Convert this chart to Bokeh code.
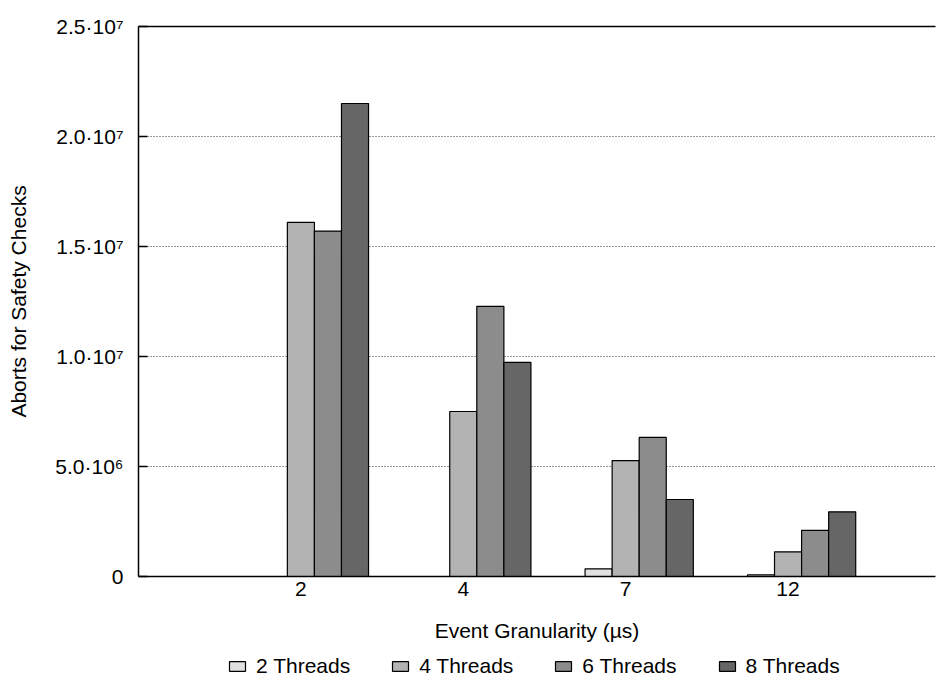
from bokeh.plotting import figure
from bokeh.layouts import column
from bokeh.models import Range1d, FixedTicker, LinearAxis, Legend, LegendItem, ColumnDataSource
from bokeh.embed import file_html
from bokeh.resources import INLINE

# ---- data ----
granularity = ["2", "4", "7", "12"]
series_names = ["2 Threads", "4 Threads", "6 Threads", "8 Threads"]
threads_2 = [0.0, 0.0, 0.35e6, 0.07e6]
threads_4 = [16.1e6, 7.5e6, 5.27e6, 1.12e6]
threads_6 = [15.7e6, 12.28e6, 6.32e6, 2.1e6]
threads_8 = [21.5e6, 9.73e6, 3.5e6, 2.94e6]
y_ticks = [0, 5e6, 1e7, 1.5e7, 2e7, 2.5e7]
y_tick_labels = ["0", "5.0·10⁶", "1.0·10⁷", "1.5·10⁷", "2.0·10⁷", "2.5·10⁷"]
colors = ["#e0e0e0", "#b3b3b3", "#8c8c8c", "#666666"]

FONT = "Liberation Sans"
FS = "21px"

p = figure(frame_width=797, frame_height=550, output_backend="svg", toolbar_location=None,
           x_range=Range1d(-1.0, 3.908), y_range=Range1d(0, 2.5e7),
           min_border_left=138, min_border_right=3, min_border_top=26, min_border_bottom=72)

p.outline_line_color = None
p.background_fill_color = "white"
p.border_fill_color = "white"

bw = 1.0 / 6.0
all_series = [threads_2, threads_4, threads_6, threads_8]
sources = []
for j, (vals, col) in enumerate(zip(all_series, colors)):
    src = ColumnDataSource(dict(x=[i + (j - 1) * bw for i in range(len(granularity))], top=vals))
    sources.append(src)
    p.vbar(x="x", top="top", bottom=0, width=bw, source=src, fill_color=col,
           line_color="black", line_width=1.2)

# axes
xa = p.xaxis[0]
xa.ticker = FixedTicker(ticks=list(range(len(granularity))))
xa.major_label_overrides = {i: g for i, g in enumerate(granularity)}
xa.major_tick_in = 0
xa.major_tick_out = 0
xa.minor_tick_line_color = None
xa.axis_line_width = 1.5
xa.axis_label = "Event Granularity (µs)"
xa.axis_label_text_font = FONT
xa.axis_label_text_font_size = FS
xa.axis_label_text_font_style = "normal"
xa.axis_label_text_color = "black"
xa.major_label_text_font = FONT
xa.major_label_text_font_size = FS
xa.major_label_text_color = "black"
xa.major_label_standoff = 5
xa.axis_label_standoff = 20

ya = p.yaxis[0]
ya.ticker = FixedTicker(ticks=y_ticks)
ya.major_label_overrides = {t: l for t, l in zip(y_ticks, y_tick_labels)}
ya.major_tick_in = 9
ya.major_tick_out = 0
ya.major_tick_line_width = 1.5
ya.minor_tick_line_color = None
ya.axis_line_width = 1.5
ya.axis_label = "Aborts for Safety Checks"
ya.axis_label_text_font = FONT
ya.axis_label_text_font_size = FS
ya.axis_label_text_font_style = "normal"
ya.axis_label_text_color = "black"
ya.major_label_text_font = FONT
ya.major_label_text_font_size = FS
ya.major_label_text_color = "black"
ya.major_label_standoff = 15
ya.axis_label_standoff = 22

top = LinearAxis(ticker=FixedTicker(ticks=[]), axis_line_width=1.5,
                 major_label_text_font_size="0px", major_tick_line_color=None,
                 minor_tick_line_color=None)
p.add_layout(top, "above")

p.xgrid.grid_line_color = None
p.ygrid.ticker = FixedTicker(ticks=[5e6, 1e7, 1.5e7, 2e7])
p.ygrid.grid_line_color = "#333333"
p.ygrid.grid_line_dash = "1 2"
p.ygrid.grid_line_width = 1

# ---- legend strip below (shares the bar sources; its ranges keep the bars out of view) ----
lg = figure(width=938, height=32, output_backend="svg", toolbar_location=None,
            x_range=Range1d(1000, 1001), y_range=Range1d(1e9, 1e9 + 1),
            min_border_left=0, min_border_right=0, min_border_top=0, min_border_bottom=0)
lg.axis.visible = False
lg.grid.visible = False
lg.outline_line_color = None
items = []
for name, col, src in zip(series_names, colors, sources):
    r = lg.vbar(x="x", top="top", bottom=0, width=bw, source=src, fill_color=col,
                line_color="black", line_width=1.2)
    items.append(LegendItem(label=name, renderers=[r], index=0))
legend = Legend(items=items, orientation="horizontal", location=(89, 2),
                label_text_font=FONT, label_text_font_size=FS, label_text_color="black",
                glyph_width=20, glyph_height=12, label_standoff=9, spacing=40,
                border_line_color=None, background_fill_alpha=0,
                padding=2, margin=0)
lg.add_layout(legend, "center")

layout = column(p, lg, spacing=0)
open("out.html", "w").write(file_html(layout, INLINE))
